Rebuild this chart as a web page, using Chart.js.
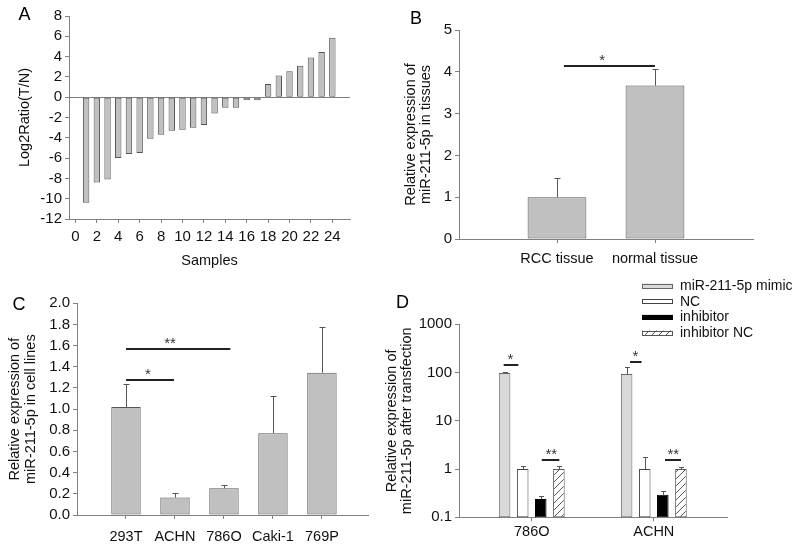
<!DOCTYPE html>
<html><head><meta charset="utf-8">
<script src="https://cdn.jsdelivr.net/npm/chart.js@4.4.1/dist/chart.umd.min.js"></script>
<style>
html,body{margin:0;padding:0;background:#fff;width:795px;height:547px;overflow:hidden}
canvas{position:absolute;left:0;top:0}
</style></head><body>
<canvas id="cA" width="795" height="547"></canvas>
<canvas id="cB" width="795" height="547"></canvas>
<canvas id="cC" width="795" height="547"></canvas>
<canvas id="cD" width="795" height="547"></canvas>
<script>
// ---------------- DATA ----------------
// Panel A
const samplesA = [1,2,3,4,5,6,7,8,9,10,11,12,13,14,15,16,17,18,19,20,21,22,23,24];
const log2RatioA = [-10.4,-8.4,-8.1,-6.0,-5.6,-5.5,-4.1,-3.7,-3.3,-3.2,-3.0,-2.75,-1.6,-1.05,-1.05,-0.3,-0.3,1.3,2.15,2.55,3.1,3.9,4.45,5.85];
const xTicksA = [0,2,4,6,8,10,12,14,16,18,20,22,24];
const yTicksA = [-12,-10,-8,-6,-4,-2,0,2,4,6,8];

// Panel B
const tissuesB = ['RCC tissue','normal tissue'];
const exprB = [1.0, 3.67];
const errB = [1.46, 4.06];
const yTicksB = [0,1,2,3,4,5];
const sigB = [{from:1.07, to:2.0, y:4.15, text:'*', tx:1.46}];

// Panel C
const cellLinesC = ['293T','ACHN','786O','Caki-1','769P'];
const exprC = [1.02, 0.165, 0.252, 0.772, 1.345];
const errC = [1.235, 0.205, 0.283, 1.128, 1.78];
const yTicksC = [0,0.2,0.4,0.6,0.8,1.0,1.2,1.4,1.6,1.8,2.0];
const sigC = [
  {from:1.0, to:3.13, y:1.572, text:'**', tx:1.9},
  {from:1.0, to:1.98, y:1.276, text:'*', tx:1.45}
];

// Panel D
const groupsD = ['786O','ACHN'];
const seriesD = ['miR-211-5p mimic','NC','inhibitor','inhibitor NC'];
const mimicD = [98, 93];
const ncD = [1.0, 1.0];
const inhibitorD = [0.239, 0.293];
const inhibitorNcD = [1.0, 1.0];
const mimicErrD = [105, 130];
const ncErrD = [1.13, 1.74];
const inhibitorErrD = [0.271, 0.344];
const inhibitorNcErrD = [1.13, 1.1];
const yTicksD = [0.1, 1, 10, 100, 1000];
const sigD = [
  {from:0.77, to:0.89, y:145, text:'*', tx:0.825},
  {from:1.082, to:1.226, y:1.56, text:'**', tx:1.16},
  {from:1.805, to:1.90, y:162, text:'*', tx:1.85},
  {from:2.092, to:2.223, y:1.56, text:'**', tx:2.16}
];

// ---------------- STYLE / HELPERS ----------------
const FONT = "'Liberation Sans', Arial, Helvetica, sans-serif";
Chart.defaults.font.family = FONT;
Chart.defaults.color = '#111';
Chart.defaults.animation = false;
Chart.defaults.responsive = false;
Chart.defaults.devicePixelRatio = 1;
Chart.defaults.plugins.legend.display = false;
Chart.defaults.plugins.tooltip.enabled = false;

const AXIS = '#808080';
const BAR = '#c0c0c0';
const BAR_EDGE = '#555555';
const TICK_FONT = {size: 15};
const TITLE_FONT = {size: 14.5};

function fixW(w){ return s => { s.width = w; }; }
function fixH(h){ return s => { s.height = h; }; }
function setTicks(arr){ return s => { s.ticks = arr.map(v => ({value: v})); }; }

const errorBars = {
  id: 'errbars',
  afterDatasetsDraw(chart, args, o) {
    if (!o.upper) return;
    const ctx = chart.ctx, ys = chart.scales.y;
    ctx.save();
    ctx.strokeStyle = o.color || '#555';
    ctx.lineWidth = 1;
    o.upper.forEach((arr, di) => {
      if (!arr) return;
      chart.getDatasetMeta(di).data.forEach((bar, i) => {
        const x = Math.round(bar.x) + 0.5;
        const y1 = Math.round(ys.getPixelForValue(arr[i])) + 0.5;
        ctx.beginPath();
        ctx.moveTo(x, bar.y); ctx.lineTo(x, y1);
        ctx.moveTo(x - o.cap, y1); ctx.lineTo(x + o.cap, y1);
        ctx.stroke();
      });
    });
    ctx.restore();
  }
};

const sigMarks = {
  id: 'sig',
  afterDatasetsDraw(chart, args, o) {
    if (!o.items) return;
    const ctx = chart.ctx, xs = chart.scales.x, ys = chart.scales.y;
    ctx.save();
    o.items.forEach(it => {
      const y = Math.round(ys.getPixelForValue(it.y));
      ctx.strokeStyle = '#222';
      ctx.lineWidth = 2;
      ctx.beginPath();
      ctx.moveTo(xs.getPixelForValue(it.from), y);
      ctx.lineTo(xs.getPixelForValue(it.to), y);
      ctx.stroke();
      ctx.fillStyle = '#333';
      ctx.font = '15px ' + FONT;
      ctx.textAlign = 'center';
      ctx.textBaseline = 'alphabetic';
      ctx.fillText(it.text, xs.getPixelForValue(it.tx), y - 1);
    });
    ctx.restore();
  }
};

const panelLabel = {
  id: 'panel',
  afterDraw(chart, args, o) {
    if (!o.text) return;
    const ctx = chart.ctx;
    ctx.save();
    ctx.fillStyle = '#000';
    ctx.font = '18px ' + FONT;
    ctx.textAlign = 'center';
    ctx.textBaseline = 'middle';
    ctx.fillText(o.text, o.x, o.y);
    ctx.restore();
  }
};

const boxLegend = {
  id: 'boxlegend',
  afterDraw(chart, args, o) {
    if (!o.show) return;
    const ctx = chart.ctx;
    ctx.save();
    chart.data.datasets.forEach((ds, i) => {
      const cy = o.y + i * o.rowH;
      ctx.fillStyle = ds.backgroundColor;
      ctx.fillRect(o.x, cy - o.swH / 2, o.swW, o.swH);
      ctx.strokeStyle = ds.borderColor;
      ctx.lineWidth = 1;
      ctx.strokeRect(o.x + 0.5, Math.round(cy - o.swH / 2) + 0.5, o.swW - 1, o.swH - 1);
      ctx.fillStyle = '#111';
      ctx.font = '14px ' + FONT;
      ctx.textAlign = 'left';
      ctx.textBaseline = 'middle';
      ctx.fillText(ds.label, o.x + o.swW + 7, cy);
    });
    ctx.restore();
  }
};

const PLUGINS = [errorBars, sigMarks, panelLabel, boxLegend];

function yAxis(extra) {
  return Object.assign({
    border: {display: true, color: AXIS, width: 1},
    grid: {drawOnChartArea: false, tickLength: 4, tickColor: AXIS, color: AXIS},
    ticks: {font: TICK_FONT, padding: 3, color: '#111', autoSkip: false}
  }, extra);
}
function xAxis(extra) {
  return Object.assign({
    type: 'linear', offset: false,
    border: {display: true, color: AXIS, width: 1},
    grid: {offset: false, drawOnChartArea: false, tickLength: 4, tickColor: AXIS, color: AXIS},
    ticks: {font: TICK_FONT, padding: 3, color: '#111', maxRotation: 0, autoSkip: false}
  }, extra);
}

// ---------------- PANEL A ----------------
new Chart(document.getElementById('cA'), {
  type: 'bar',
  data: {datasets: [{
    label: 'Log2Ratio(T/N)',
    data: samplesA.map((s, i) => ({x: s, y: log2RatioA[i]})),
    backgroundColor: BAR, borderColor: BAR_EDGE, borderWidth: 1, borderSkipped: false,
    barPercentage: 0.6, categoryPercentage: 1
  }]},
  options: {
    layout: {padding: {left: 0, top: 16, right: 445, bottom: 277}},
    scales: {
      x: xAxis({min: -0.6, max: 25.65, afterFit: fixH(51), afterBuildTicks: setTicks(xTicksA),
        ticks: {font: TICK_FONT, padding: 5, color: '#111', maxRotation: 0, autoSkip: false},
        title: {display: true, text: 'Samples', font: TITLE_FONT, color: '#111', padding: 0}}),
      y: yAxis({min: -12, max: 8, afterFit: fixW(69), afterBuildTicks: setTicks(yTicksA),
        grid: {drawOnChartArea: true, tickLength: 4, tickColor: AXIS,
               color: c => (c.tick && c.tick.value === 0) ? AXIS : 'rgba(0,0,0,0)'},
        title: {display: true, text: 'Log2Ratio(T/N)', font: TITLE_FONT, color: '#111', padding: {top: 16.6, bottom: 0}}})
    },
    plugins: {panel: {text: 'A', x: 24.5, y: 15}}
  },
  plugins: PLUGINS
});

// ---------------- PANEL B ----------------
new Chart(document.getElementById('cB'), {
  type: 'bar',
  data: {datasets: [{
    label: 'expression',
    data: tissuesB.map((t, i) => ({x: i + 1, y: exprB[i]})),
    backgroundColor: BAR, borderColor: BAR_EDGE, borderWidth: 1, borderSkipped: false,
    barPercentage: 0.6, categoryPercentage: 1
  }]},
  options: {
    layout: {padding: {left: 390, top: 30, right: 42, bottom: 277}},
    scales: {
      x: xAxis({min: 0, max: 3, afterFit: fixH(31), afterBuildTicks: setTicks([1, 2]),
        ticks: {font: TITLE_FONT, padding: 7, color: '#111', maxRotation: 0, autoSkip: false,
                callback: (v, i) => tissuesB[i]}}),
      y: yAxis({min: 0, max: 5, afterFit: fixW(69), afterBuildTicks: setTicks(yTicksB),
        title: {display: true, text: ['Relative expression of', 'miR-211-5p in tissues'],
                font: {size: 14.5, lineHeight: 1.0}, color: '#111', padding: {top: 14, bottom: 0}}})
    },
    plugins: {
      panel: {text: 'B', x: 416, y: 19},
      errbars: {upper: [errB], cap: 3, color: '#555'},
      sig: {items: sigB}
    }
  },
  plugins: PLUGINS
});

// ---------------- PANEL C ----------------
new Chart(document.getElementById('cC'), {
  type: 'bar',
  data: {datasets: [{
    label: 'expression',
    data: cellLinesC.map((t, i) => ({x: i + 1, y: exprC[i]})),
    backgroundColor: BAR, borderColor: BAR_EDGE, borderWidth: 1, borderSkipped: false,
    barPercentage: 0.6, categoryPercentage: 1
  }]},
  options: {
    layout: {padding: {left: 0, top: 303.3, right: 427, bottom: 0}},
    scales: {
      x: xAxis({min: 0, max: 5.94, afterFit: fixH(32), afterBuildTicks: setTicks([1, 2, 3, 4, 5]),
        ticks: {font: TITLE_FONT, padding: 9, color: '#111', maxRotation: 0, autoSkip: false,
                callback: (v, i) => cellLinesC[i]}}),
      y: yAxis({min: 0, max: 2, afterFit: fixW(77), afterBuildTicks: setTicks(yTicksC),
        ticks: {font: TICK_FONT, padding: 3, color: '#111', autoSkip: false, callback: v => v.toFixed(1)},
        title: {display: true, text: ['Relative expression of', 'miR-211-5p in cell lines'],
                font: {size: 14.5, lineHeight: 1.1}, color: '#111', padding: {top: 7.5, bottom: 0}}})
    },
    plugins: {
      panel: {text: 'C', x: 19, y: 305},
      errbars: {upper: [errC], cap: 3, color: '#555'},
      sig: {items: sigC}
    }
  },
  plugins: PLUGINS
});

// ---------------- PANEL D ----------------
function hatch() {
  const c = document.createElement('canvas');
  c.width = 7; c.height = 7;
  const g = c.getContext('2d');
  g.fillStyle = '#fff'; g.fillRect(0, 0, 7, 7);
  g.strokeStyle = '#555'; g.lineWidth = 1;
  g.beginPath();
  g.moveTo(-1, 8); g.lineTo(8, -1);
  g.moveTo(-1, 1); g.lineTo(1, -1);
  g.moveTo(6, 8); g.lineTo(8, 6);
  g.stroke();
  return g.createPattern(c, 'repeat');
}
const offsetD = [-0.2225, -0.074, 0.074, 0.2225];
const valuesD = [mimicD, ncD, inhibitorD, inhibitorNcD];
const errsD = [mimicErrD, ncErrD, inhibitorErrD, inhibitorNcErrD];
const fillsD = ['#d9d9d9', '#ffffff', '#000000', hatch()];
const edgesD = ['#666666', '#444444', '#000000', '#555555'];

new Chart(document.getElementById('cD'), {
  type: 'bar',
  data: {datasets: seriesD.map((name, s) => ({
    label: name,
    data: groupsD.map((g, i) => ({x: i + 1 + offsetD[s], y: valuesD[s][i]})),
    backgroundColor: fillsD[s], borderColor: edgesD[s], borderWidth: 1, borderSkipped: false,
    barPercentage: 0.64, categoryPercentage: 1, grouped: false
  }))},
  options: {
    layout: {padding: {left: 370, top: 324.3, right: 68, bottom: 0}},
    scales: {
      x: xAxis({min: 0.404, max: 2.6, afterFit: fixH(29.7), afterBuildTicks: setTicks([1, 2]),
        ticks: {font: TITLE_FONT, padding: 2, color: '#111', maxRotation: 0, autoSkip: false,
                callback: (v, i) => groupsD[i]}}),
      y: yAxis({type: 'logarithmic', min: 0.1, max: 1000, afterFit: fixW(89), afterBuildTicks: setTicks(yTicksD),
        ticks: {font: TICK_FONT, padding: 3, color: '#111', autoSkip: false, callback: v => String(v)},
        title: {display: true, text: ['Relative expression of', 'miR-211-5p after transfection'],
                font: {size: 14.5, lineHeight: 1.05}, color: '#111', padding: {top: 14.4, bottom: 0}}})
    },
    plugins: {
      panel: {text: 'D', x: 402.5, y: 303.3},
      errbars: {upper: errsD, cap: 2.5, color: '#555'},
      sig: {items: sigD},
      boxlegend: {show: true, x: 642, y: 286, rowH: 15.7, swW: 31, swH: 5}
    }
  },
  plugins: PLUGINS
});
</script>
</body></html>
